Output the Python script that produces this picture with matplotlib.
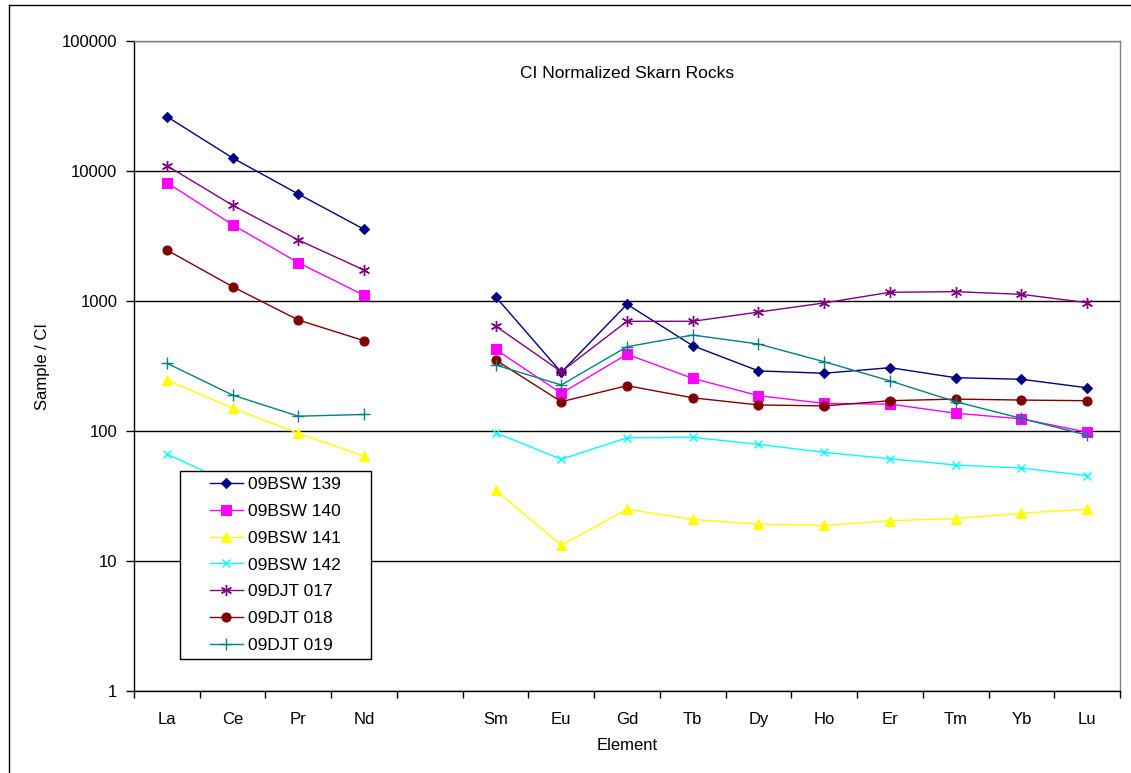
"""CI-normalized REE patterns for the skarn rock samples (log scale, Pm gap)."""
import numpy as np
import matplotlib
matplotlib.use("Agg")
import matplotlib.pyplot as plt
from matplotlib.lines import Line2D
from matplotlib.patches import Rectangle
from matplotlib.ticker import FixedLocator, NullFormatter, FuncFormatter

plt.rcParams["font.family"] = ["Liberation Sans", "DejaVu Sans"]

# element order along x; Pm has no analysis so its slot stays empty
ELEMENTS = ["La", "Ce", "Pr", "Nd", "", "Sm", "Eu", "Gd", "Tb", "Dy",
            "Ho", "Er", "Tm", "Yb", "Lu"]

# chondrite-normalized values, None = not analysed (Pm)
BSW_139 = [26200, 12600, 6650, 3560, None, 1080, 283, 944, 453, 290,
           278, 307, 257, 250, 215]
BSW_140 = [8130, 3860, 1970, 1106, None, 425, 195, 389, 254, 187,
           163, 161, 137, 124, 98]
BSW_141 = [247, 150, 96, 64, None, 35.2, 13.2, 25, 20.9, 19.2,
           18.8, 20.4, 21.2, 23.3, 25]
BSW_142 = [66.5, 39, 30, 24, None, 97, 60.6, 88.7, 89.4, 78.9,
           68.5, 61.2, 54.7, 51.9, 45.3]
DJT_017 = [10990, 5450, 2945, 1730, None, 642, 286, 698, 698, 822,
           966, 1167, 1180, 1125, 971]
DJT_018 = [2466, 1288, 714, 495, None, 352, 168, 223, 180, 158.6,
           156, 171, 176, 173, 171]
DJT_019 = [332, 189, 130, 134, None, 322, 226, 445, 547, 467,
           341, 243, 168, 125, 93]

SAMPLE_NAMES = ["09BSW 139", "09BSW 140", "09BSW 141", "09BSW 142",
                "09DJT 017", "09DJT 018", "09DJT 019"]

# excel-2003 style series formatting
STYLES = [
    dict(color="#000080", marker="D", ms=5.5),
    dict(color="#FF00FF", marker="s", ms=6.5),
    dict(color="#FFFF00", marker="^", ms=6.5),
    dict(color="#00FFFF", marker="x", ms=6, mew=1.0),
    dict(color="#800080", marker=(6, 2, 0), ms=8, mew=1.0),
    dict(color="#800000", marker="o", ms=6.5),
    dict(color="#008080", marker="+", ms=8, mew=1.0),
]

W, H = 1131, 773
FS = 12


def fig_box(x0, y0, x1, y1):
    """pixel box (top-left origin) -> figure fraction rect."""
    return [x0 / W, 1 - y1 / H, (x1 - x0) / W, (y1 - y0) / H]


def plotPattern():
    fig = plt.figure(figsize=(W / 100, H / 100), dpi=100)
    fig.patch.set_facecolor("white")

    # outer chart frame (only top and left edges fall inside the image)
    fig.add_artist(Line2D([9 / W, 9 / W], [0, 1 - 5 / H], color="black",
                          lw=1.0, transform=fig.transFigure))
    fig.add_artist(Line2D([9 / W, 1], [1 - 5 / H, 1 - 5 / H], color="black",
                          lw=1.0, transform=fig.transFigure))

    ax = fig.add_axes(fig_box(134, 41, 1120, 691))
    x = np.arange(len(ELEMENTS))

    series = [BSW_139, BSW_140, BSW_141, BSW_142, DJT_017, DJT_018, DJT_019]
    for vals, name, st in zip(series, SAMPLE_NAMES, STYLES):
        y = np.array([np.nan if v is None else v for v in vals], dtype=float)
        ax.plot(x, y, color=st["color"], lw=1.0, marker=st["marker"],
                ms=st["ms"], mfc=st["color"], mec=st["color"],
                mew=st.get("mew", 0.8), label=name, zorder=3)

    ax.set_yscale("log")
    ax.set_ylim(1, 100000)
    ax.set_xlim(-0.5, len(ELEMENTS) - 0.5)

    ax.yaxis.set_major_locator(FixedLocator([1, 10, 100, 1000, 10000, 100000]))
    ax.yaxis.set_minor_locator(FixedLocator([]))
    ax.yaxis.set_major_formatter(FuncFormatter(lambda v, _: f"{v:.0f}"))
    ax.grid(axis="y", which="major", color="black", lw=1.0, zorder=1)

    ax.set_xticks(x)
    ax.set_xticklabels(ELEMENTS)
    ax.xaxis.set_minor_locator(FixedLocator(np.arange(-0.5, len(ELEMENTS), 1.0)))
    ax.xaxis.set_minor_formatter(NullFormatter())
    ax.tick_params(axis="x", which="major", length=0, pad=15, labelsize=FS)
    ax.tick_params(axis="x", which="minor", length=5, width=1.0, direction="out")
    ax.tick_params(axis="y", which="major", length=6, width=1.0,
                   direction="out", pad=6, labelsize=FS)

    for side in ("top", "right"):
        ax.spines[side].set_color("#808080")
        ax.spines[side].set_linewidth(1.0)
    for side in ("left", "bottom"):
        ax.spines[side].set_color("black")
        ax.spines[side].set_linewidth(1.0)

    ax.text(0.5, 0.95, "CI Normalized Skarn Rocks", transform=ax.transAxes,
            ha="center", va="center", fontsize=12.5)
    fig.text(42 / W, 1 - 366 / H, "Sample / CI", rotation=90,
             ha="center", va="center", fontsize=FS)
    fig.text(627 / W, 1 - 746 / H, "Element", ha="center", va="center",
             fontsize=FS)

    # legend box drawn separately so its padding can be wider than tall
    box = Rectangle((180 / W, 1 - 659 / H), 191 / W, 188 / H,
                    transform=fig.transFigure, facecolor="white",
                    edgecolor="black", lw=1.0, zorder=5)
    fig.add_artist(box)
    leg = fig.legend(loc="upper left",
                     bbox_to_anchor=(210 / W, 1 - 477 / H),
                     frameon=False, fontsize=12.5, handlelength=1.9,
                     handletextpad=0.3, labelspacing=0.67,
                     borderpad=0.0, borderaxespad=0.0)
    leg.set_zorder(6)
    return fig


def main():
    fig = plotPattern()
    fig.savefig("out.png", dpi=100)
    plt.close(fig)


if __name__ == "__main__":
    main()
